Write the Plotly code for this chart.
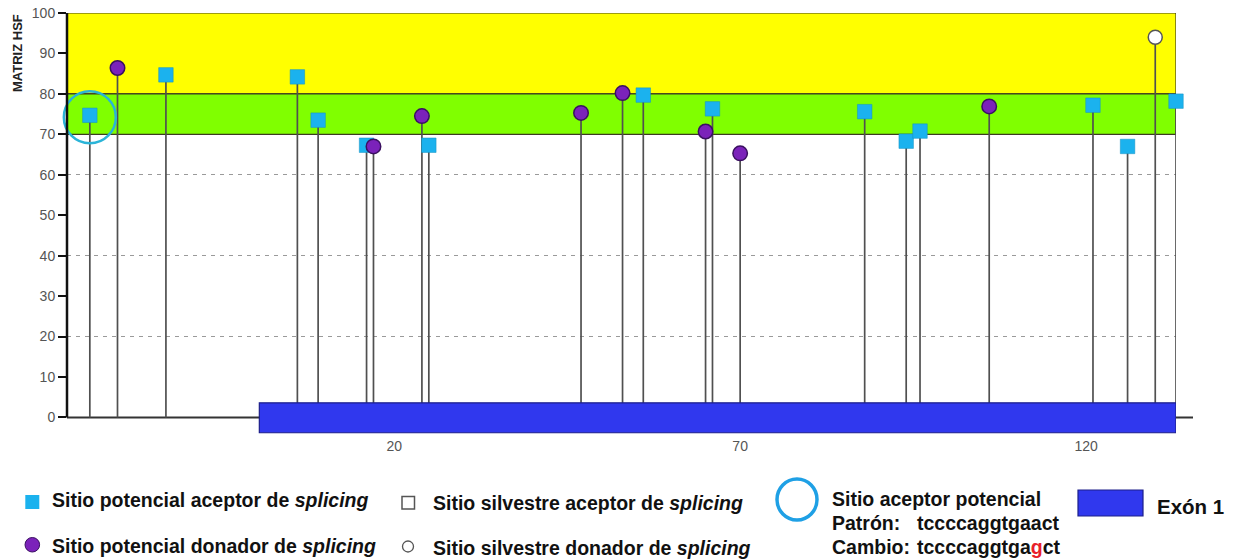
import plotly.graph_objects as go

# ---------------- data ----------------
ACCEPTOR_X = [-24, -13, 6, 9, 16, 25, 56, 66, 88, 94, 96, 121, 126, 133]
ACCEPTOR_Y = [74.7, 84.7, 84.2, 73.5, 67.3, 67.3, 79.7, 76.3, 75.6, 68.3, 70.8, 77.2, 67.0, 78.2]
DONOR_X = [-20, 17, 24, 47, 53, 65, 70, 106]
DONOR_Y = [86.4, 67.0, 74.5, 75.3, 80.2, 70.7, 65.3, 76.9]
WILD_DONOR_X = [130]
WILD_DONOR_Y = [94.0]
HIGHLIGHT_X = [-24]
HIGHLIGHT_Y = [74.2]
EXON_START, EXON_END = 0.5, 133.0
BAND_GREEN = (70, 80)
BAND_YELLOW = (80, 100)
X_TICKS = [20, 70, 120]
Y_TICKS = list(range(0, 101, 10))
GRID_Y = [20, 40, 60]
X_RANGE = [-27.3, 133.0]
Y_RANGE = [-4.6, 100]

FONT = "Liberation Sans, Arial, sans-serif"
CYAN = "#1BB2EE"
PURPLE = "#7B22BA"
EXON_BLUE = "#3038EE"

# plot area in pixels (for legend placement)
L, R, T, B = 67, 1176, 13, 436


def px(x):
    return (x - L) / (R - L)


def py(y):
    return (B - y) / (B - T)


fig = go.Figure()

# stems
sx, sy = [], []
for xs, ys in ((ACCEPTOR_X, ACCEPTOR_Y), (DONOR_X, DONOR_Y), (WILD_DONOR_X, WILD_DONOR_Y)):
    for x, y in zip(xs, ys):
        sx += [x, x, None]
        sy += [0, y, None]
fig.add_trace(go.Scatter(x=sx, y=sy, mode="lines", line=dict(color="#505050", width=1.7),
                         hoverinfo="skip", showlegend=False, cliponaxis=False))

fig.add_trace(go.Scatter(x=ACCEPTOR_X, y=ACCEPTOR_Y, mode="markers", name="aceptor",
                         marker=dict(symbol="square", size=14.5, color=CYAN,
                                     line=dict(width=0.5, color="#1590c0")),
                         cliponaxis=False, showlegend=False))
fig.add_trace(go.Scatter(x=DONOR_X, y=DONOR_Y, mode="markers", name="donador",
                         marker=dict(symbol="circle", size=14.5, color=PURPLE,
                                     line=dict(width=1.5, color="#3a1060")),
                         cliponaxis=False, showlegend=False))
fig.add_trace(go.Scatter(x=WILD_DONOR_X, y=WILD_DONOR_Y, mode="markers", name="silvestre donador",
                         marker=dict(symbol="circle", size=14, color="white",
                                     line=dict(width=1.5, color="#555555")),
                         cliponaxis=False, showlegend=False))
fig.add_trace(go.Scatter(x=HIGHLIGHT_X, y=HIGHLIGHT_Y, mode="markers", name="aceptor potencial",
                         marker=dict(symbol="circle-open", size=52, color="#2AB4D8",
                                     line=dict(width=2.5, color="#2AB4D8")),
                         cliponaxis=False, showlegend=False))

shapes = []
# bands
shapes.append(dict(type="rect", xref="x", yref="y", x0=X_RANGE[0], x1=X_RANGE[1],
                   y0=BAND_YELLOW[0], y1=BAND_YELLOW[1], fillcolor="#FFFF00",
                   line=dict(color="#3c3c20", width=1.2), layer="below"))
shapes.append(dict(type="rect", xref="x", yref="y", x0=X_RANGE[0], x1=X_RANGE[1],
                   y0=BAND_GREEN[0], y1=BAND_GREEN[1], fillcolor="#80FF00",
                   line=dict(color="#3c3c20", width=1.2), layer="below"))
# baseline
shapes.append(dict(type="line", xref="paper", yref="y", x0=0, x1=px(1193), y0=0, y1=0,
                   line=dict(color="#333333", width=2), layer="below"))
# y axis line
shapes.append(dict(type="line", xref="paper", yref="y", x0=0, x1=0, y0=0, y1=100,
                   line=dict(color="#111111", width=2.5), layer="above"))
# exon
shapes.append(dict(type="rect", xref="x", yref="y", x0=EXON_START, x1=EXON_END, y0=-3.8, y1=3.6,
                   fillcolor=EXON_BLUE, line=dict(color="#1c1f8a", width=1.2), layer="above"))

# legend symbols
shapes.append(dict(type="rect", xref="paper", yref="paper", x0=px(25.3), x1=px(39.3),
                   y0=py(509), y1=py(495), fillcolor=CYAN, line=dict(width=0)))
shapes.append(dict(type="circle", xref="paper", yref="paper", x0=px(25), x1=px(39.6),
                   y0=py(552), y1=py(537.5), fillcolor=PURPLE, line=dict(color="#3a1060", width=1)))
shapes.append(dict(type="rect", xref="paper", yref="paper", x0=px(402), x1=px(414.5),
                   y0=py(509), y1=py(496.5), fillcolor="white", line=dict(color="#555555", width=1.5)))
shapes.append(dict(type="circle", xref="paper", yref="paper", x0=px(402.5), x1=px(413.5),
                   y0=py(552), y1=py(541), fillcolor="white", line=dict(color="#555555", width=1.3)))
shapes.append(dict(type="circle", xref="paper", yref="paper", x0=px(777), x1=px(817),
                   y0=py(520), y1=py(479), line=dict(color="#1FA0E5", width=3.5)))
shapes.append(dict(type="rect", xref="paper", yref="paper", x0=px(1078), x1=px(1143),
                   y0=py(516), y1=py(490), fillcolor=EXON_BLUE, line=dict(color="#1c1f8a", width=1.2)))

annotations = []


def txt(x, y, text, size=19.5, color="#111111"):
    annotations.append(dict(xref="paper", yref="paper", x=px(x), y=py(y), text=text,
                             showarrow=False, xanchor="left", yanchor="middle",
                             font=dict(family=FONT, size=size, color=color)))


txt(50, 500, "<b>Sitio potencial aceptor de <i>splicing</i></b>")
txt(50, 546, "<b>Sitio potencial donador de <i>splicing</i></b>")
txt(431, 503, "<b>Sitio silvestre aceptor de <i>splicing</i></b>")
txt(431, 548, "<b>Sitio silvestre donador de <i>splicing</i></b>")
txt(830, 499, "<b>Sitio aceptor potencial</b>")
txt(830, 523, "<b>Patrón:</b>")
txt(915, 523, "<b>tccccaggtgaact</b>")
txt(830, 547, "<b>Cambio:</b>")
txt(915, 547, "<b>tccccaggtga<span style='color:#E8202A'>g</span>ct</b>")
txt(1155, 507, "<b>Exón 1</b>", size=20.5)

annotations.append(dict(xref="paper", yref="paper", x=px(17), y=py(53), text="<b>MATRIZ HSF</b>",
                        textangle=-90, showarrow=False, xanchor="center", yanchor="middle",
                        font=dict(family=FONT, size=13, color="#222222")))

fig.update_layout(
    width=1233, height=560,
    margin=dict(l=L, r=1233 - R, t=T, b=560 - B),
    paper_bgcolor="white", plot_bgcolor="white",
    shapes=shapes, annotations=annotations, showlegend=False,
    xaxis=dict(range=X_RANGE, tickvals=X_TICKS, showgrid=False, zeroline=False, showline=False,
               ticks="", tickfont=dict(family=FONT, size=14, color="#555555"), automargin=False,
               fixedrange=True),
    yaxis=dict(range=Y_RANGE, tickvals=Y_TICKS, showgrid=False, zeroline=False, showline=False,
               ticks="outside", ticklen=8, tickwidth=2, tickcolor="#111111",
               tickfont=dict(family=FONT, size=14, color="#555555"), automargin=False),
    yaxis2=dict(range=Y_RANGE, overlaying="y", tickvals=GRID_Y, showticklabels=False,
                showgrid=True, gridcolor="#9a9a9a", gridwidth=1.3, griddash="4px,5px",
                zeroline=False, showline=False, ticks=""),
)
# dummy trace to activate yaxis2 grid
fig.add_trace(go.Scatter(x=[None], y=[None], yaxis="y2", showlegend=False, hoverinfo="skip"))

fig.write_html("out.html", config={"displayModeBar": False},
               post_script="document.body.style.margin='0';document.body.style.overflow='hidden';")
